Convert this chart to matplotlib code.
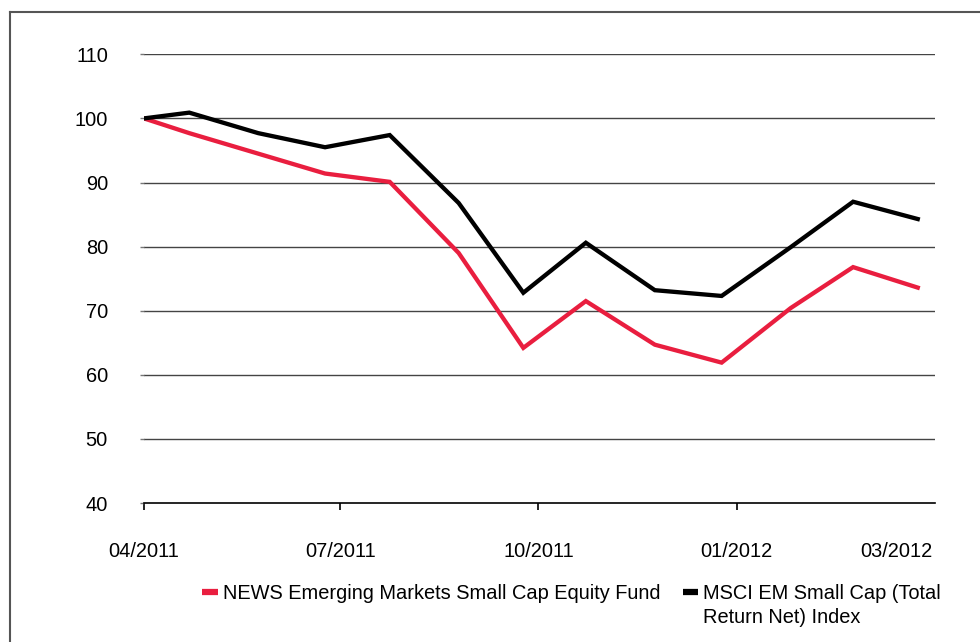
import numpy as np
import pandas as pd
import matplotlib
matplotlib.use('Agg')
import matplotlib.pyplot as plt
from matplotlib.lines import Line2D

plt.rcParams['font.family'] = ['Liberation Sans', 'DejaVu Sans']

dates = ['2011-04-01', '2011-04-22', '2011-05-24', '2011-06-24', '2011-07-24',
         '2011-08-25', '2011-09-24', '2011-10-23', '2011-11-24', '2011-12-25',
         '2012-01-26', '2012-02-24', '2012-03-25']
fund = [100, 97.7, 94.5, 91.4, 90.1, 79.0, 64.2, 71.5, 64.7, 61.9, 70.4, 76.8, 73.6]
index = [100, 100.9, 97.7, 95.5, 97.4, 86.8, 72.8, 80.6, 73.2, 72.3, 79.9, 87.0, 84.3]

tick_dates = ['2011-04-01', '2011-07-01', '2011-10-01', '2012-01-01', '2012-03-15']
tick_labels = ['04/2011', '07/2011', '10/2011', '01/2012', '03/2012']
yticks = [40, 50, 60, 70, 80, 90, 100, 110]

fund_label = 'NEWS Emerging Markets Small Cap Equity Fund'
index_label = ['MSCI EM Small Cap (Total', 'Return Net) Index']

red = '#E91E3F'
fs = 14.4
W, H = 980, 642

x = pd.to_datetime(dates)

fig = plt.figure(figsize=(9.8, 6.42), dpi=100)
ax = fig.add_axes([144 / W, 1 - 503 / H, (935 - 144) / W, (503 - 54.3) / H])

ax.plot(x, fund, color=red, lw=3.1, solid_joinstyle='miter')
ax.plot(x, index, color='black', lw=3.1, solid_joinstyle='miter')

ax.set_ylim(40, 110)
ax.set_yticks(yticks)
ax.set_xlim(pd.Timestamp('2011-04-01'), pd.Timestamp('2012-04-02'))
ax.set_xticks(pd.to_datetime(tick_dates))
ax.set_xticklabels(tick_labels)

for y in yticks[1:]:
    ax.axhline(y, color='#444444', lw=1, zorder=0)

for s in ['top', 'right', 'left']:
    ax.spines[s].set_visible(False)
ax.spines['bottom'].set_color('black')
ax.spines['bottom'].set_linewidth(1.2)

ax.tick_params(axis='y', length=3, width=1, color='#777777', pad=23, labelsize=fs)
ax.tick_params(axis='x', length=5, width=1.2, color='black', pad=23, labelsize=fs)
# last label has no tick mark
ax.xaxis.get_major_ticks()[-1].tick1line.set_visible(False)

# legend, drawn by hand so the handle sits on the first text line
def px(xp, yp):
    return xp / W, 1 - yp / H

fig.add_artist(Line2D([202 / W, 218 / W], [1 - 592 / H] * 2, color=red, lw=4.5,
                      solid_capstyle='butt'))
fig.text(*px(223, 599), fund_label, fontsize=fs, va='baseline', ha='left')
fig.add_artist(Line2D([683 / W, 698 / W], [1 - 592 / H] * 2, color='black', lw=4.5,
                      solid_capstyle='butt'))
fig.text(*px(703, 599), index_label[0], fontsize=fs, va='baseline', ha='left')
fig.text(*px(703, 623), index_label[1], fontsize=fs, va='baseline', ha='left')

# frame around the chart
fig.add_artist(Line2D([10 / W, 1.01], [1 - 12 / H] * 2, color='#555555', lw=1.5))
fig.add_artist(Line2D([10 / W] * 2, [1 - 12 / H, -0.01], color='#555555', lw=1.5))

fig.savefig('out.png', dpi=100)
